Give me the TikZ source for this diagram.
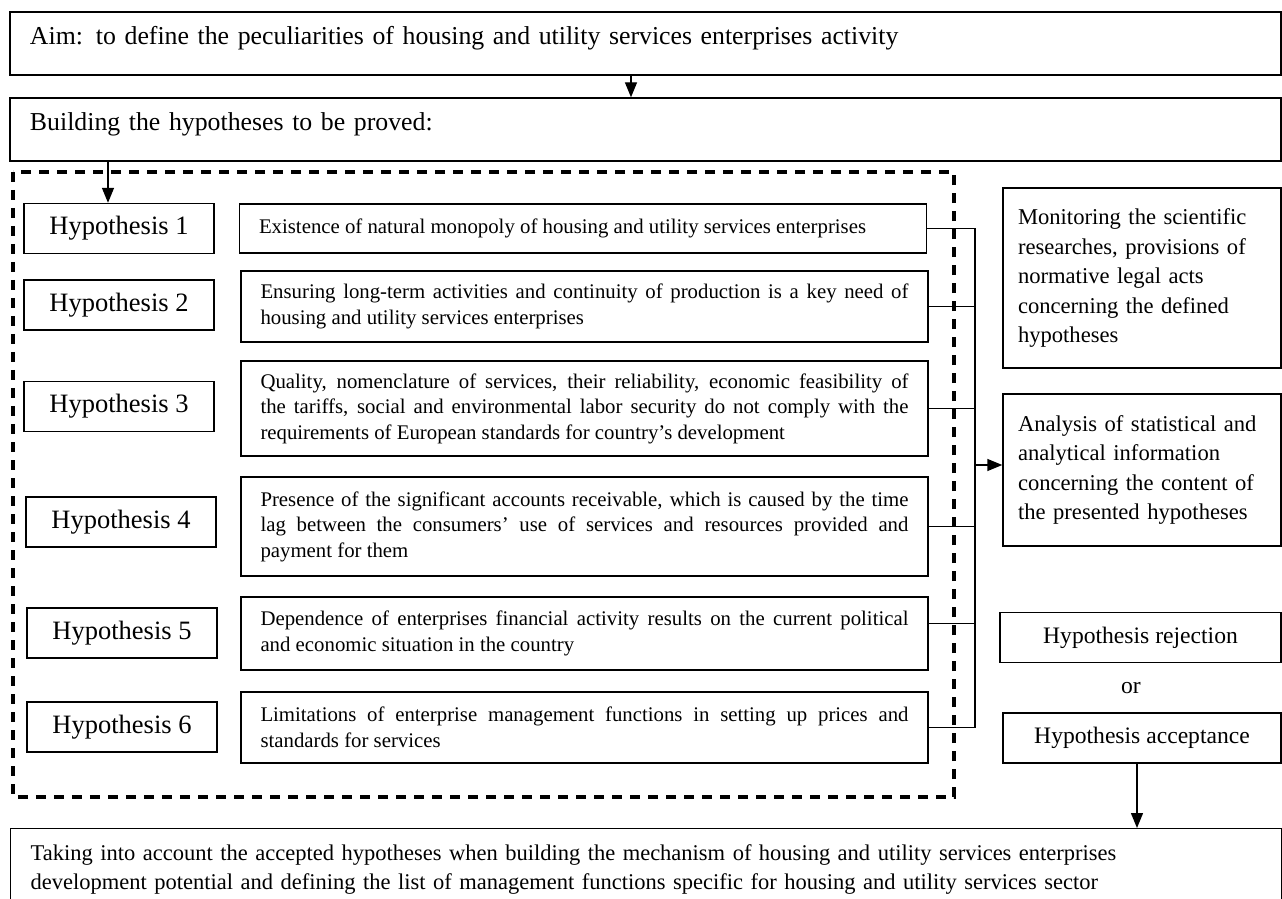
\documentclass[tikz,border=0pt]{standalone}
\usepackage{fontspec}
\setmainfont{Liberation Serif}
\usetikzlibrary{arrows.meta}

\tikzset{
  box/.style={draw,line width=0.7pt,inner sep=0pt},
  wide/.style={box,text width=615.5pt,inner xsep=10pt,inner ysep=0pt,align=left,
    text height=16.5pt,text depth=15pt,font=\fontsize{12.9pt}{16pt}\selectfont},
  hyp/.style={box,minimum width=95pt,minimum height=25pt,font=\fontsize{13.25pt}{16pt}\selectfont},
  desc/.style={box,text width=324pt,inner xsep=9.75pt,align=justify,font=\fontsize{10.4pt}{12.75pt}\selectfont},
  side/.style={box,text width=124pt,inner xsep=7.5pt,align=left,font=\fontsize{11.3pt}{14.75pt}\selectfont},
  result/.style={box,minimum height=25pt,font=\fontsize{11.8pt}{14pt}\selectfont}
}

\begin{document}
\begin{tikzpicture}[x=0.5pt,y=-0.5pt,>={Triangle[length=7.5pt,width=6pt]},line width=0.7pt]
\useasboundingbox (0,0) rectangle (1282,899);

    % aim
    \node [wide] (aim) at (645.5,43.5) {Aim: to define the peculiarities of housing and utility services enterprises activity};
    \node [wide] (build) at (645.5,129.5) {Building the hypotheses to be proved:};
    \draw[->] ([xshift=-7.25pt]aim.south) -- ([xshift=-7.25pt]build.north);

    % hypotheses frame
    \draw[line width=1.6pt,dash pattern=on 5pt off 4pt] (13,172) rectangle (954,797);

    \node [hyp] (h1) at (119,228.5) {Hypothesis 1};
    \node [hyp] (h2) at (119,305)   {Hypothesis 2};
    \node [hyp] (h3) at (119,406.5) {Hypothesis 3};
    \node [hyp] (h4) at (121,522)   {Hypothesis 4};
    \node [hyp] (h5) at (122,633)   {Hypothesis 5};
    \node [hyp] (h6) at (122,727)   {Hypothesis 6};
    \draw[->] ([xshift=-5.5pt]h1.north |- build.south) -- ([xshift=-5.5pt]h1.north);

    \node [desc,minimum height=24.5pt] (d1) at (583,228.5) {Existence of natural monopoly of housing and utility services enterprises};
    \node [desc,minimum height=35.5pt] (d2) at (584.5,306.5) {Ensuring long-term activities and continuity of production is a key need of\linebreak housing and utility services enterprises};
    \node [desc,minimum height=47.5pt] (d3) at (584.5,408.5) {Quality, nomenclature of services, their reliability, economic feasibility of\linebreak the tariffs, social and environmental labor security do not comply with the\linebreak requirements of European standards for country’s development};
    \node [desc,minimum height=49.5pt] (d4) at (584.5,526.5) {Presence of the significant accounts receivable, which is caused by the time\linebreak lag between the consumers’ use of services and resources provided and\linebreak payment for them};
    \node [desc,minimum height=36.5pt] (d5) at (584.5,633.5) {Dependence of enterprises financial activity results on the current political\linebreak and economic situation in the country};
    \node [desc,minimum height=35.5pt] (d6) at (584.5,727.5) {Limitations of enterprise management functions in setting up prices and\linebreak standards for services};

    % right column
    \node [side,minimum height=90pt] (mon) at (1142,278) {Monitoring the scientific\\ researches, provisions of\\ normative legal acts\\ concerning the defined\\ hypotheses};
    \node [side,minimum height=76pt] (an) at (1142,470) {Analysis of statistical and\\ analytical information\\ concerning the content of\\ the presented hypotheses};
    \node [result,minimum width=140.5pt] (rej) at (1140.5,637.5) {Hypothesis rejection};
    \node [font=\fontsize{11.8pt}{14pt}\selectfont] (or) at (1131,688) {or};
    \node [result,minimum width=139pt] (acc) at (1142,738) {Hypothesis acceptance};

    % junction
    \coordinate (jn) at (975,465);
    \draw (d1.east) -- (d1.east -| jn);
    \draw (d2.east) -- (d2.east -| jn);
    \draw (d3.east) -- (d3.east -| jn);
    \draw (d4.east) -- (d4.east -| jn);
    \draw ([yshift=5pt]d5.east) -- ([yshift=5pt]d5.east -| jn);
    \draw (d6.east) -- (d6.east -| jn);
    \draw (d1.east -| jn) -- (d6.east -| jn);
    \draw[->] (jn) -- (jn -| an.west);

    % result
    \node [box,anchor=north west,text width=615.5pt,inner xsep=10pt,minimum height=41pt,align=left,font=\fontsize{11.25pt}{14.5pt}\selectfont] (res) at (10,828) {\makebox[560pt][s]{Taking into account the accepted hypotheses when building the mechanism of housing and utility services enterprises}\\ development potential and defining the list of management functions specific for housing and utility services sector};
    \draw[->] ([xshift=-2.5pt]acc.south) -- ([xshift=-2.5pt]acc.south |- res.north);

\end{tikzpicture}
\end{document}
